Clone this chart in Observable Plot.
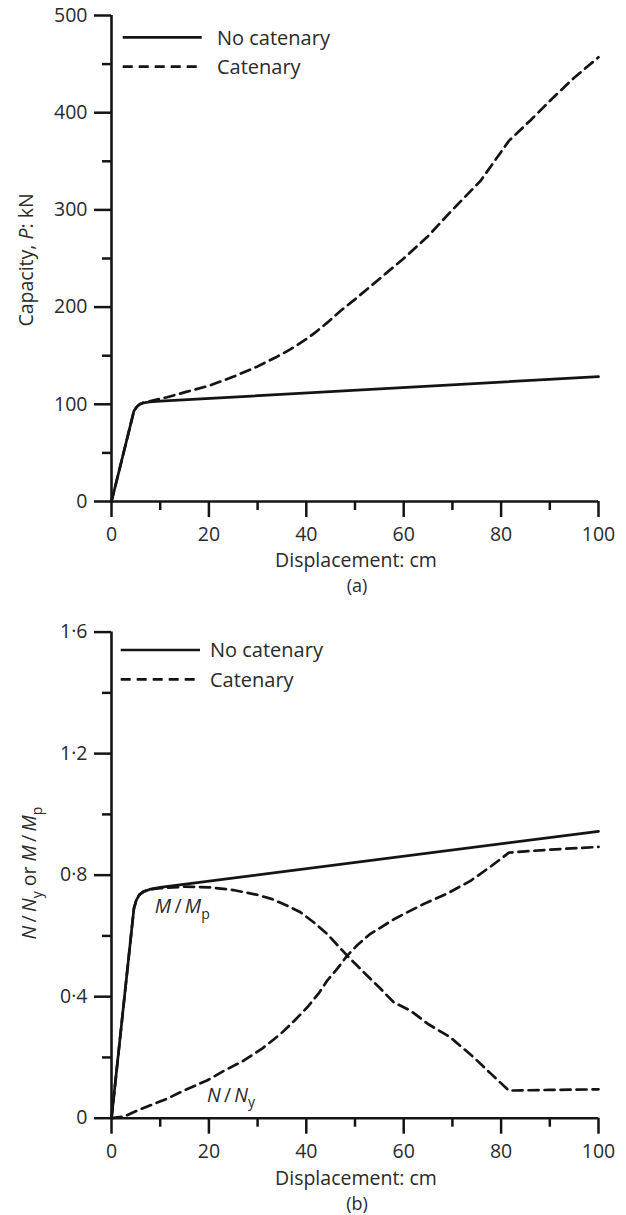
<!DOCTYPE html>
<html><head><meta charset="utf-8">
<script src="https://cdn.jsdelivr.net/npm/d3@7"></script>
<script src="https://cdn.jsdelivr.net/npm/@observablehq/plot@0.6"></script>
<style>
body{margin:0;background:#fff;}
#wrap{width:626px;}
#wrap svg{display:block;}
</style></head><body><div id="wrap"></div>
<script>
// ---------- data (a) ----------
const dispA_noCat = [0, 4.6, 5.2, 5.8, 6.6, 7.8, 10, 100];
const capA_noCat  = [0, 93, 97.5, 100, 101.5, 102.4, 103.2, 128.5];
const dispA_cat = [0, 4.6, 5.2, 5.8, 6.6, 7.8, 11.4, 15.5, 20, 25.1, 30, 34, 36, 38, 40, 42, 44.3, 47, 50, 55, 60, 64.8, 70, 75.8, 81.6, 86, 90.8, 95, 100];
const capA_cat  = [0, 93, 97.5, 100, 101.7, 103, 107.3, 113, 119, 128.5, 139, 149, 154.5, 160.5, 167, 174.5, 184, 196, 208, 229, 250, 272, 300, 330, 371, 392, 416, 436, 457];

// ---------- data (b) ----------
const dispB_noCat = [0, 4.6, 5.1, 5.7, 6.5, 7.8, 10, 100];
const ratioB_noCat = [0, 0.69, 0.718, 0.735, 0.745, 0.753, 0.76, 0.944];
const dispB_catM = [0, 4.6, 5.1, 5.7, 6.5, 7.8, 10, 15, 20, 25, 30, 33, 36, 38.8, 41.5, 44.3, 48.4, 52, 55, 58, 61.4, 65, 69.6, 74.4, 78, 81.6, 90, 100];
const ratioB_catM = [0, 0.69, 0.718, 0.735, 0.745, 0.753, 0.757, 0.762, 0.76, 0.751, 0.735, 0.721, 0.70, 0.678, 0.645, 0.606, 0.535, 0.477, 0.43, 0.381, 0.354, 0.31, 0.266, 0.20, 0.145, 0.091, 0.093, 0.095];
const dispB_catN = [0, 2.5, 6, 11.4, 15, 19.6, 23, 27.2, 31, 34.7, 37.5, 40.2, 42.5, 44.3, 46.5, 48.4, 50.5, 53, 58, 61, 64.1, 69, 73.7, 78, 81.6, 90, 100];
const ratioB_catN = [0, 0.005, 0.03, 0.064, 0.092, 0.124, 0.155, 0.19, 0.23, 0.277, 0.32, 0.365, 0.41, 0.453, 0.495, 0.535, 0.57, 0.605, 0.655, 0.68, 0.705, 0.74, 0.781, 0.83, 0.874, 0.884, 0.893];

// ---------- ticks & labels ----------
const xMajor = [0, 20, 40, 60, 80, 100];
const xMinor = [10, 30, 50, 70, 90];
const yMajorA = [0, 100, 200, 300, 400, 500];
const yMinorA = [50, 150, 250, 350, 450];
const yMajorB = [0, 0.4, 0.8, 1.2, 1.6];
const yMinorB = [0.2, 0.6, 1.0, 1.4];
const seriesNames = ["No catenary", "Catenary"];
const xTitle = "Displacement: cm";
const panelTags = ["(a)", "(b)"];
// annotation anchors (data coordinates)
const annM = {x: 9.0, y: 0.673};
const annN = {x: 19.7, y: 0.053};

const FONT = "'Open Sans', sans-serif";
const INK = "#141414";
const TEXT = "#2a2a2a";
const DASH = "10,6";
const FS = 19.5;
const TS = "\u2009";

const zip = (xs, ys) => xs.map((x, i) => ({x, y: ys[i]}));

function makeChart({height, marginTop, marginBottom, yDomain, yMajor, yMinor, yFmt, series}) {
  const txt = {fontSize: FS, fontFamily: FONT, fill: TEXT};
  const svg = Plot.plot({
    width: 626, height, marginLeft: 111, marginRight: 28, marginTop, marginBottom,
    style: {fontFamily: FONT, fontSize: FS + "px", color: TEXT, background: "white", overflow: "visible"},
    x: {domain: [0, 100]},
    y: {domain: yDomain},
    marks: [
      Plot.axisX(xMajor, {...txt, tickSize: 16, tickPadding: 10, strokeWidth: 2.5, stroke: INK, label: null, tickFormat: d => String(d)}),
      Plot.axisX(xMinor, {tickSize: 9, strokeWidth: 2.5, stroke: INK, label: null, tickFormat: () => ""}),
      Plot.axisY(yMajor, {...txt, tickSize: 17, tickPadding: 7, strokeWidth: 2.5, stroke: INK, label: null, tickFormat: yFmt}),
      Plot.axisY(yMinor, {tickSize: 9, strokeWidth: 2.5, stroke: INK, label: null, tickFormat: () => ""}),
      Plot.ruleX([0], {strokeWidth: 2.6, stroke: INK}),
      Plot.ruleY([yDomain[0]], {strokeWidth: 2.6, stroke: INK}),
      ...series.map(s => Plot.line(s.data, {x: "x", y: "y", stroke: INK, strokeWidth: 2.7, strokeDasharray: s.dash, curve: "linear", strokeLinejoin: "round"}))
    ]
  });
  d3.select(svg).selectAll("g[aria-label$='tick label']")
    .attr("font-size", FS).attr("font-family", FONT).attr("fill", TEXT);
  return svg;
}

function rich(svg, x, y, parts, {anchor = "start", rotate = 0, size = FS} = {}) {
  const t = svg.append("text")
    .attr("font-family", FONT).attr("font-size", size).attr("fill", TEXT).attr("text-anchor", anchor);
  if (rotate) t.attr("transform", `translate(${x},${y}) rotate(${rotate})`);
  else t.attr("x", x).attr("y", y);
  let shift = 0;
  for (const p of parts) {
    const s = t.append("tspan").text(p.t);
    if (p.i) s.attr("font-style", "italic");
    const target = p.sub ? size * 0.3 : 0;
    if (target !== shift) { s.attr("dy", target - shift); shift = target; }
    if (p.sub) s.attr("font-size", size * 0.72);
  }
  return t;
}

function plain(svg, x, y, s, size = FS) {
  svg.append("text").attr("font-family", FONT).attr("font-size", size)
    .attr("fill", TEXT).attr("text-anchor", "middle").attr("x", x).attr("y", y).text(s);
}

function legend(svg, x0, x1, tx, y0, gap) {
  [null, DASH].forEach((d, i) => {
    const y = y0 + i * gap;
    svg.append("line").attr("x1", x0).attr("x2", x1).attr("y1", y).attr("y2", y)
      .attr("stroke", INK).attr("stroke-width", 2.7).attr("stroke-dasharray", d);
    svg.append("text").attr("x", tx).attr("y", y).attr("dy", "0.36em").attr("text-anchor", "start")
      .attr("font-family", FONT).attr("font-size", 20).attr("fill", TEXT).text(seriesNames[i]);
  });
}

const wrap = document.getElementById("wrap");

// ---------- chart (a) ----------
const chartA = makeChart({
  height: 600, marginTop: 15, marginBottom: 99,
  yDomain: [0, 500], yMajor: yMajorA, yMinor: yMinorA, yFmt: d => String(d),
  series: [
    {data: zip(dispA_noCat, capA_noCat), dash: null},
    {data: zip(dispA_cat, capA_cat), dash: DASH}
  ]
});
wrap.appendChild(chartA);
{
  const svg = d3.select(chartA);
  legend(svg, 122.7, 201.7, 217, 37.3, 29.4);
  plain(svg, 356, 567, xTitle);
  plain(svg, 357, 592, panelTags[0], 18);
  rich(svg, 33, 260, [{t: "Capacity, "}, {t: "P", i: true}, {t: ": kN"}], {anchor: "middle", rotate: -90});
}

// ---------- chart (b) ----------
const fmtB = d => d === 0 ? "0" : d3.format(".1f")(d).replace(".", "\u00B7");
const chartB = makeChart({
  height: 615, marginTop: 31.6, marginBottom: 97.3,
  yDomain: [0, 1.6], yMajor: yMajorB, yMinor: yMinorB, yFmt: fmtB,
  series: [
    {data: zip(dispB_noCat, ratioB_noCat), dash: null},
    {data: zip(dispB_catM, ratioB_catM), dash: DASH},
    {data: zip(dispB_catN, ratioB_catN), dash: DASH}
  ]
});
wrap.appendChild(chartB);
{
  const svg = d3.select(chartB);
  const sx = chartB.scale("x"), sy = chartB.scale("y");
  legend(svg, 120.7, 200, 210, 50, 29.3);
  plain(svg, 356, 585, xTitle);
  plain(svg, 357, 610, panelTags[1], 18);
  rich(svg, 36, 273, [{t: "N", i: true}, {t: TS + "/" + TS}, {t: "N", i: true}, {t: "y", sub: true}, {t: " or "}, {t: "M", i: true}, {t: TS + "/" + TS}, {t: "M", i: true}, {t: "p", sub: true}], {anchor: "middle", rotate: -90});
  rich(svg, sx.apply(annM.x), sy.apply(annM.y), [{t: "M", i: true}, {t: TS + "/" + TS}, {t: "M", i: true}, {t: "p", sub: true}]);
  rich(svg, sx.apply(annN.x), sy.apply(annN.y), [{t: "N", i: true}, {t: TS + "/" + TS}, {t: "N", i: true}, {t: "y", sub: true}]);
}
</script></body></html>
